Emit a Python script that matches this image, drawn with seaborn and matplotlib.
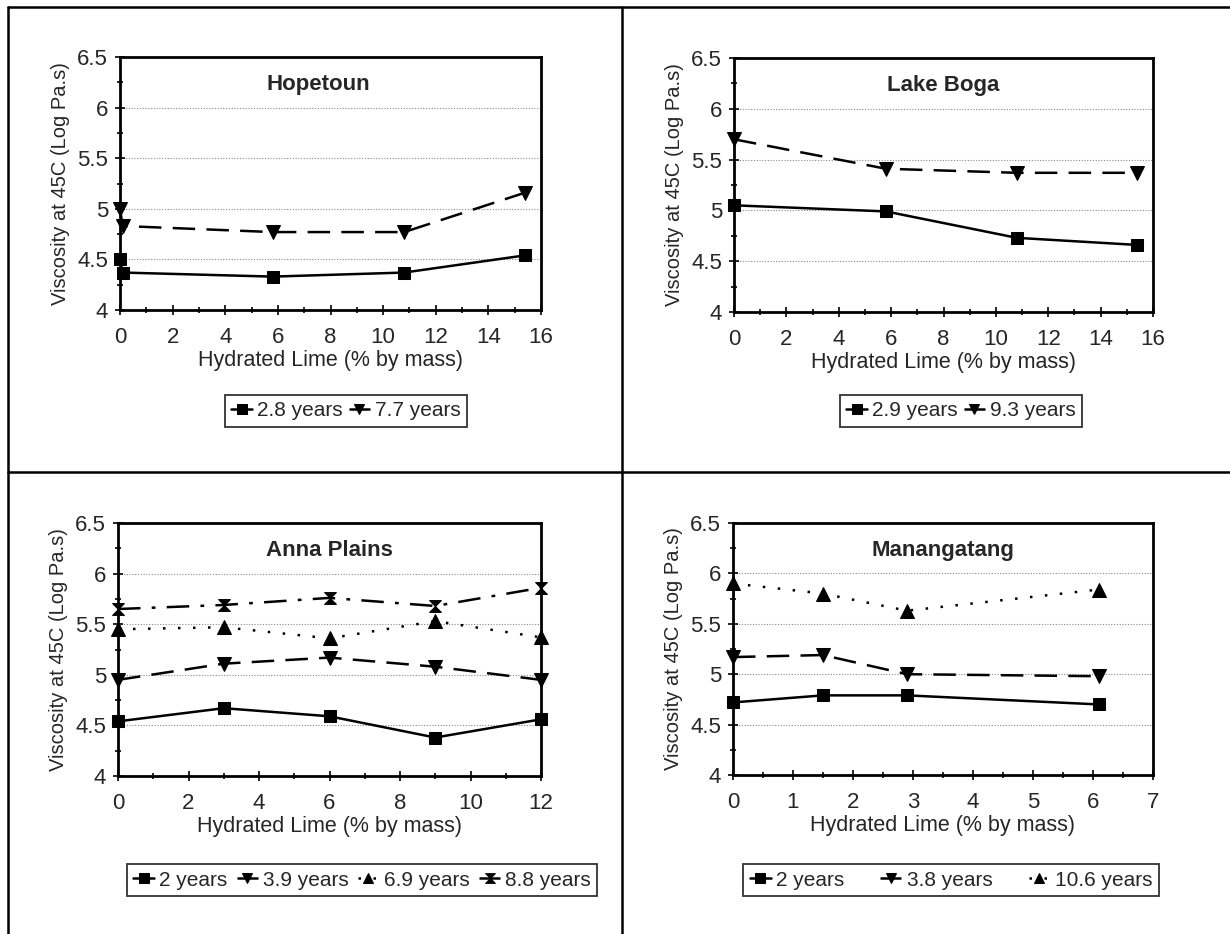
import numpy as np
import pandas as pd
import matplotlib
matplotlib.use("Agg")
import matplotlib.pyplot as plt
from matplotlib.path import Path
from matplotlib.lines import Line2D
from matplotlib.ticker import MultipleLocator
import seaborn as sns

# ---------------- data ----------------
hop_x = [0, 0.1, 5.8, 10.8, 15.4]
hop_28 = [4.50, 4.37, 4.33, 4.37, 4.54]
hop_77 = [5.00, 4.83, 4.77, 4.77, 5.16]

boga_x = [0, 5.8, 10.8, 15.4]
boga_29 = [5.05, 4.99, 4.73, 4.66]
boga_93 = [5.70, 5.41, 5.37, 5.37]

anna_x = [0, 3, 6, 9, 12]
anna_2 = [4.54, 4.67, 4.59, 4.38, 4.56]
anna_39 = [4.95, 5.11, 5.17, 5.08, 4.95]
anna_69 = [5.45, 5.47, 5.36, 5.53, 5.37]
anna_88 = [5.65, 5.69, 5.76, 5.68, 5.86]

man_x = [0, 1.5, 2.9, 6.1]
man_2 = [4.72, 4.79, 4.79, 4.70]
man_38 = [5.17, 5.19, 5.00, 4.98]
man_106 = [5.90, 5.80, 5.63, 5.84]

titles = ["Hopetoun", "Lake Boga", "Anna Plains", "Manangatang"]
x_label = "Hydrated Lime (% by mass)"
y_label = "Viscosity at 45C (Log Pa.s)"

# ---------------- style ----------------
sns.set_theme(style="white")
plt.rcParams['font.family'] = ['Liberation Sans', 'DejaVu Sans']
plt.rcParams['axes.edgecolor'] = 'black'

hourglass = Path([(-1, 1), (1, 1), (-1, -1), (1, -1), (-1, 1)],
                 [Path.MOVETO, Path.LINETO, Path.LINETO, Path.LINETO, Path.CLOSEPOLY])

styles = [
    dict(marker='s', linestyle='-', ms=8.5),
    dict(marker='v', linestyle=(0, (9, 4.5)), ms=9.5),
    dict(marker='^', linestyle=(0, (1, 5)), ms=9.5),
    dict(marker=hourglass, linestyle=(0, (9, 4.5, 1.5, 4.5)), ms=8.5),
]

W, H = 1230, 934
fig = plt.figure(figsize=(W / 100, H / 100), dpi=100)

panels = [
    dict(pos=(120, 57, 541, 310), x=hop_x, series=[hop_28, hop_77],
         labels=["2.8 years", "7.7 years"], xmax=16, major=2, minor=1,
         leg=(346, 411), tx=0.47, cs=0.3),
    dict(pos=(734, 58, 1153, 312), x=boga_x, series=[boga_29, boga_93],
         labels=["2.9 years", "9.3 years"], xmax=16, major=2, minor=1,
         leg=(961, 411), tx=0.5, cs=0.3),
    dict(pos=(118, 523, 541, 776), x=anna_x, series=[anna_2, anna_39, anna_69, anna_88],
         labels=["2 years", "3.9 years", "6.9 years", "8.8 years"], xmax=12, major=2, minor=1,
         leg=(362, 880), tx=0.5, cs=0.45),
    dict(pos=(733, 523, 1153, 775), x=man_x, series=[man_2, man_38, man_106],
         labels=["2 years", "3.8 years", "10.6 years"], xmax=7, major=1, minor=0.5,
         leg=(951, 880), tx=0.5, cs=1.75),
]

for i, p in enumerate(panels):
    l, t, r, b = p['pos']
    ax = fig.add_axes([l / W, 1 - b / H, (r - l) / W, (b - t) / H])
    for j, ys in enumerate(p['series']):
        df = pd.DataFrame({'x': p['x'], 'y': ys})
        st = styles[j]
        sns.lineplot(data=df, x='x', y='y', ax=ax, estimator=None, sort=False,
                     color='black', linewidth=1.8, linestyle=st['linestyle'],
                     marker=st['marker'], markersize=st['ms'],
                     markeredgecolor='black', markerfacecolor='black',
                     label=p['labels'][j], clip_on=False)
    ax.set_xlim(0, p['xmax'])
    ax.set_ylim(4, 6.5)
    ax.xaxis.set_major_locator(MultipleLocator(p['major']))
    ax.xaxis.set_minor_locator(MultipleLocator(p['minor']))
    ax.yaxis.set_minor_locator(MultipleLocator(0.25))
    ax.set_yticks([4, 4.5, 5, 5.5, 6, 6.5])
    ax.set_yticklabels(["4", "4.5", "5", "5.5", "6", "6.5"])
    for yg in [4.5, 5, 5.5, 6]:
        ax.axhline(yg, color='#888888', linestyle=(0, (1, 1.5)), linewidth=0.8, zorder=0)
    for s in ax.spines.values():
        s.set_linewidth(2)
        s.set_color('black')
    ax.tick_params(axis='both', which='both', direction='inout', color='black',
                   labelsize=16, left=True, bottom=True, width=1.2)
    ax.tick_params(axis='both', which='major', length=7)
    ax.tick_params(axis='x', which='major', pad=9)
    ax.tick_params(axis='y', which='major', pad=5)
    ax.tick_params(axis='both', which='minor', length=5)
    ax.set_xlabel(x_label, fontsize=15.5, labelpad=1)
    ax.set_ylabel(y_label, fontsize=14.5, labelpad=5)
    ax.text(p['tx'], 0.89, titles[i], transform=ax.transAxes, ha='center', va='center',
            fontsize=16, fontweight='bold')
    lx, ly = p['leg']
    leg = ax.legend(loc='center', bbox_to_anchor=(lx / W, 1 - ly / H),
                    bbox_transform=fig.transFigure, ncol=len(p['series']),
                    frameon=True, fancybox=False, fontsize=15, handlelength=1.0,
                    handletextpad=0.25, columnspacing=p['cs'], borderpad=0.3,
                    borderaxespad=0)
    leg.get_frame().set_edgecolor('black')
    leg.get_frame().set_linewidth(1.3)
    for h in leg.get_lines():
        h.set_markersize(7)

# panel frame lines
def fl(x0, y0, x1, y1):
    fig.add_artist(Line2D([x0 / W, x1 / W], [1 - y0 / H, 1 - y1 / H],
                          transform=fig.transFigure, color='black', linewidth=1.8))

fl(8, 7, 1230, 7)
fl(8, 7, 8, 934)
fl(622, 7, 622, 934)
fl(8, 472, 1230, 472)

fig.savefig("out.png", dpi=100, facecolor='white')
